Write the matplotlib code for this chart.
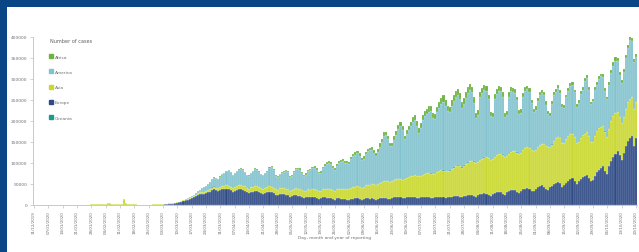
import numpy as np
import pandas as pd
import matplotlib
matplotlib.use("Agg")
import matplotlib.pyplot as plt
from matplotlib.patches import Rectangle
from matplotlib.lines import Line2D

# daily new cases (thousands), 31/12/2019 - 20/10/2020
start_date = "2019-12-31"

europe = [
    0,
    # Jan
    0, 0, 0, 0, 0, 0, 0, 0, 0, 0, 0, 0, 0, 0, 0, 0, 0, 0, 0, 0, 0, 0, 0, 0, 0, 0, 0, 0, 0, 0, 0,
    # Feb
    0, 0, 0, 0, 0, 0, 0, 0, 0, 0, 0, 0, 0, 0, 0, 0, 0, 0, 0, 0,
    0.02, 0.05, 0.1, 0.08, 0.1, 0.15, 0.2, 0.3, 0.4,
    # Mar
    0.6, 0.8, 1.0, 1.2, 1.6, 2.1, 2.6, 3.5, 4.0, 5.0, 6, 7.5, 9, 11, 12.5, 14, 16, 19, 21, 24,
    26, 27, 26, 29, 31, 32, 36, 38, 35, 34, 36,
    # Apr
    38, 37, 39, 37, 35, 32, 33, 36, 37, 38, 35, 33, 30, 28, 31, 32, 34, 33, 31, 28,
    27, 29, 30, 32, 30, 28, 25, 24, 27, 26,
    # May
    27, 25, 23, 20, 21, 23, 24, 22, 21, 19, 17, 18, 20, 19, 19, 18, 17, 15, 16, 18,
    18, 17, 17, 16, 14, 13, 16, 16, 15, 14, 14,
    # Jun
    13, 13, 15, 15, 16, 16, 14, 13, 14, 16, 16, 15, 16, 14, 13, 15, 16, 17, 17, 16,
    15, 14, 17, 18, 18, 19, 18, 16, 17, 18,
    # Jul
    19, 18, 19, 19, 17, 16, 18, 19, 19, 20, 19, 17, 16, 18, 19, 20, 20, 18, 17, 19,
    18, 20, 21, 22, 22, 19, 18, 21, 22, 24, 25,
    # Aug
    24, 22, 20, 24, 26, 27, 28, 27, 23, 22, 26, 29, 31, 32, 31, 27, 25, 30, 33, 35,
    36, 35, 31, 29, 34, 37, 39, 40, 37, 33, 34,
    # Sep
    39, 43, 46, 47, 44, 38, 36, 42, 45, 50, 53, 55, 52, 44, 47, 53, 58, 62, 64, 58,
    49, 56, 62, 67, 70, 72, 65, 56, 60, 70,
    # Oct
    78, 84, 88, 92, 82, 75, 92, 105, 115, 122, 128, 118, 108, 125, 140, 152, 160, 165, 140, 160,
]

asia = [
    0.03,
    # Jan
    0, 0, 0, 0, 0.02, 0, 0, 0, 0, 0, 0, 0, 0, 0, 0, 0, 0, 0.02, 0.02,
    0.14, 0.15, 0.15, 0.1, 0.26, 0.46, 0.69, 0.77, 1.77, 1.46, 1.74, 1.98,
    # Feb
    2.1, 2.6, 2.83, 3.24, 3.88, 3.69, 3.14, 3.39, 2.65, 2.97, 2.47, 2.02,
    15.1, 5.1, 2.64, 2.01, 2.05, 1.89, 1.75, 0.5,
    1.0, 1.1, 1.0, 0.6, 1.0, 1.0, 1.2, 1.2, 1.5,
    # Mar
    1.8, 1.6, 1.5, 1.5, 1.6, 1.9, 1.8, 1.7, 1.4, 1.3, 1.4, 1.6, 1.9, 1.8, 2.0, 2.3, 2.4, 2.8, 3.0, 3.4,
    3.8, 4.0, 4.3, 4.1, 4.5, 5.0, 5.6, 6.0, 6.3, 6.0, 6.5,
    # Apr
    7.0, 7.5, 8.0, 8.5, 8.0, 8.5, 9.0, 9.5, 10.0, 10.5, 11, 11.5, 11, 10.5, 11, 12, 12, 12.5, 12, 11.5,
    11, 12, 12.5, 13, 13, 12, 12, 12.5, 13, 13.5,
    # May
    14, 14, 14.5, 13.5, 14, 15, 16, 16.5, 17, 17, 16, 16.5, 17, 17.5, 18, 19, 19, 18, 18.5, 19,
    20, 21, 21.5, 22, 21, 21, 22, 23, 24, 25, 25,
    # Jun
    24, 25, 26, 27, 28, 29, 29, 28, 30, 31, 32, 33, 34, 35, 34, 35, 37, 38, 40, 40,
    41, 40, 39, 41, 43, 44, 45, 44, 45, 47,
    # Jul
    48, 50, 51, 52, 53, 52, 50, 53, 55, 56, 57, 58, 57, 56, 59, 61, 63, 64, 63, 62,
    64, 66, 68, 70, 72, 73, 71, 73, 75, 77, 79,
    # Aug
    80, 81, 79, 78, 81, 83, 85, 87, 88, 85, 83, 86, 88, 90, 91, 93, 89, 86, 89, 91,
    92, 94, 94, 92, 90, 94, 96, 97, 99, 98, 95,
    # Sep
    92, 94, 97, 99, 101, 103, 101, 97, 99, 103, 106, 108, 107, 104, 101, 103, 106, 107, 106, 104,
    99, 94, 98, 99, 100, 101, 99, 94, 91, 95,
    # Oct
    98, 99, 98, 96, 93, 87, 90, 95, 97, 96, 94, 91, 87, 85, 89, 94, 93, 91, 88, 86,
]

america = [
    0,
    # Jan
    0, 0, 0, 0, 0, 0, 0, 0, 0, 0, 0, 0, 0, 0, 0, 0, 0, 0, 0, 0, 0, 0, 0, 0, 0, 0, 0, 0, 0, 0, 0,
    # Feb
    0, 0, 0, 0, 0, 0, 0, 0, 0, 0, 0, 0, 0, 0, 0, 0, 0, 0, 0, 0, 0, 0, 0, 0, 0, 0, 0, 0, 0,
    # Mar
    0.02, 0.03, 0.05, 0.05, 0.1, 0.1, 0.1, 0.15, 0.2, 0.3, 0.4, 0.5, 0.7, 0.8, 1.0, 1.5, 2.0, 2.5, 3.5, 5.5,
    6.5, 8, 11, 11, 13, 18, 19, 21, 22, 22, 25,
    # Apr
    28, 31, 34, 37, 35, 31, 33, 35, 37, 38, 38, 33, 30, 31, 34, 37, 40, 39, 36, 34,
    33, 35, 36, 44, 48, 44, 32, 30, 33, 36,
    # May
    38, 42, 40, 34, 33, 40, 45, 47, 46, 40, 36, 38, 44, 47, 50, 52, 48, 42, 42, 50,
    55, 60, 62, 60, 54, 50, 55, 60, 64, 66, 62,
    # Jun
    62, 60, 68, 74, 76, 78, 74, 66, 66, 74, 80, 82, 82, 74, 70, 76, 86, 94, 108, 110,
    100, 86, 84, 96, 106, 118, 124, 118, 94, 104,
    # Jul
    112, 120, 128, 132, 118, 104, 116, 130, 138, 140, 146, 148, 134, 130, 142, 150, 158, 164, 156, 142,
    138, 150, 158, 164, 168, 160, 142, 146, 158, 164, 170,
    # Aug
    164, 140, 108, 112, 150, 156, 160, 158, 140, 105, 100, 138, 146, 150, 148, 138, 95, 98, 136, 144,
    140, 138, 124, 96, 96, 126, 136, 138, 134, 112, 92,
    # Sep
    96, 110, 118, 120, 116, 98, 80, 72, 96, 108, 110, 116, 108, 86, 84, 100, 108, 114, 116, 106,
    86, 94, 104, 108, 126, 130, 110, 90, 96, 108,
    # Oct
    110, 116, 120, 116, 96, 90, 104, 114, 120, 126, 120, 100, 96, 106, 120, 128, 140, 134, 112, 106,
]

africa = [
    0,
    # Jan
    0, 0, 0, 0, 0, 0, 0, 0, 0, 0, 0, 0, 0, 0, 0, 0, 0, 0, 0, 0, 0, 0, 0, 0, 0, 0, 0, 0, 0, 0, 0,
    # Feb
    0, 0, 0, 0, 0, 0, 0, 0, 0, 0, 0, 0, 0, 0, 0, 0, 0, 0, 0, 0, 0, 0, 0, 0, 0, 0, 0, 0, 0,
    # Mar
    0, 0, 0, 0, 0.01, 0.02, 0.02, 0.03, 0.02, 0.04, 0.04, 0.03, 0.05, 0.06, 0.07, 0.09, 0.1, 0.12, 0.15, 0.2,
    0.2, 0.25, 0.3, 0.35, 0.4, 0.4, 0.45, 0.5, 0.55, 0.5, 0.6,
    # Apr
    0.6, 0.7, 0.7, 0.75, 0.7, 0.6, 0.65, 0.7, 0.8, 0.85, 0.9, 0.9, 0.85, 0.8, 0.95, 1.0, 1.1, 1.2, 1.2, 1.1,
    1.2, 1.3, 1.4, 1.5, 1.6, 1.6, 1.5, 1.6, 1.8, 2.0,
    # May
    2.1, 2.3, 2.4, 2.3, 2.4, 2.6, 2.8, 3.0, 3.1, 3.0, 2.8, 2.9, 3.1, 3.3, 3.4, 3.6, 3.5, 3.3, 3.4, 3.6,
    3.8, 4.0, 4.2, 4.1, 4.0, 3.9, 4.3, 4.6, 4.8, 5.0, 4.9,
    # Jun
    4.8, 4.9, 5.2, 5.5, 5.8, 6.0, 5.9, 5.5, 5.8, 6.2, 6.5, 6.8, 7.0, 6.8, 6.6, 7.0, 7.6, 8.0, 8.2, 8.0,
    8.2, 7.8, 7.6, 8.4, 9.0, 9.4, 9.6, 9.0, 8.8, 9.4,
    # Jul
    10, 10.5, 11, 11.5, 10.8, 10.2, 11, 12, 12.5, 12.8, 13, 12.6, 12, 12.4, 13, 13.5, 14, 14.5, 14, 13,
    13.5, 14, 14.5, 15, 14.8, 14, 13, 13.5, 14, 14.2, 14,
    # Aug
    13.5, 12.5, 11.5, 12, 12.5, 13, 12.6, 12, 11, 10, 10.5, 11, 11.2, 11, 10.6, 10, 9, 9.2, 10, 10.2,
    10, 9.6, 9, 8.4, 8.6, 9, 9.2, 9, 8.6, 8, 7.6,
    # Sep
    8, 8.4, 8.6, 8.4, 8, 7.4, 6.8, 7, 7.6, 7.8, 7.8, 7.6, 7.2, 6.6, 6.8, 7, 7.2, 7, 6.8, 6.4,
    6, 6.4, 6.8, 7, 7, 6.8, 6.4, 6, 6.2, 6.8,
    # Oct
    7, 7.2, 7, 6.8, 6.4, 6.2, 6.8, 7.2, 7.4, 7.2, 7, 6.6, 6.8, 7.4, 7.8, 8, 8.2, 8, 7.6, 7.8,
]

oceania = [
    0,
    # Jan
    0, 0, 0, 0, 0, 0, 0, 0, 0, 0, 0, 0, 0, 0, 0, 0, 0, 0, 0, 0, 0, 0, 0, 0, 0, 0, 0, 0, 0, 0, 0,
    # Feb
    0, 0, 0, 0, 0, 0, 0, 0, 0, 0, 0, 0, 0, 0, 0, 0, 0, 0, 0, 0, 0, 0, 0, 0, 0, 0, 0, 0, 0,
    # Mar
    0, 0, 0, 0, 0, 0, 0, 0, 0, 0.01, 0.01, 0.02, 0.03, 0.05, 0.05, 0.06, 0.08, 0.1, 0.15, 0.2,
    0.25, 0.3, 0.4, 0.45, 0.5, 0.45, 0.4, 0.4, 0.35, 0.3, 0.3,
    # Apr
    0.25, 0.3, 0.25, 0.2, 0.15, 0.12, 0.1, 0.08, 0.06, 0.07, 0.06, 0.05, 0.04, 0.03, 0.03, 0.03, 0.02, 0.02, 0.02, 0.02,
    0.02, 0.01, 0.01, 0.02, 0.01, 0.01, 0.01, 0.01, 0.01, 0.02,
    # May
    0.01, 0.02, 0.01, 0.01, 0.01, 0.02, 0.02, 0.01, 0.01, 0.01, 0.01, 0.01, 0.02, 0.02, 0.01, 0.01, 0.01, 0.01, 0.01, 0.02,
    0.02, 0.01, 0.01, 0.01, 0.01, 0.02, 0.02, 0.01, 0.01, 0.01, 0.01,
    # Jun
    0.01, 0.01, 0.01, 0.02, 0.02, 0.01, 0.01, 0.01, 0.01, 0.02, 0.02, 0.02, 0.01, 0.01, 0.02, 0.02, 0.02, 0.03, 0.03, 0.03,
    0.03, 0.03, 0.04, 0.05, 0.05, 0.05, 0.06, 0.06, 0.07, 0.08,
    # Jul
    0.08, 0.09, 0.1, 0.11, 0.12, 0.13, 0.14, 0.15, 0.17, 0.2, 0.22, 0.25, 0.27, 0.28, 0.3, 0.32, 0.35, 0.38, 0.4, 0.4,
    0.42, 0.45, 0.48, 0.5, 0.52, 0.5, 0.48, 0.5, 0.55, 0.6, 0.65,
    # Aug
    0.62, 0.6, 0.55, 0.6, 0.62, 0.6, 0.55, 0.5, 0.45, 0.4, 0.38, 0.35, 0.35, 0.33, 0.32, 0.3, 0.28, 0.25, 0.24, 0.24,
    0.22, 0.2, 0.2, 0.18, 0.16, 0.15, 0.14, 0.13, 0.12, 0.11, 0.1,
    # Sep
    0.1, 0.09, 0.08, 0.08, 0.07, 0.07, 0.06, 0.06, 0.05, 0.05, 0.05, 0.05, 0.04, 0.04, 0.04, 0.04, 0.03, 0.03, 0.03, 0.03,
    0.03, 0.03, 0.03, 0.02, 0.02, 0.02, 0.02, 0.02, 0.02, 0.02,
    # Oct
    0.02, 0.02, 0.02, 0.02, 0.02, 0.02, 0.02, 0.03, 0.03, 0.03, 0.03, 0.03, 0.03, 0.03, 0.03, 0.03, 0.03, 0.03, 0.03, 0.03,
]

series_names = ["Africa", "America", "Asia", "Europe", "Oceania"]
colors = {
    "Africa": "#6cb33f",
    "America": "#82c2ce",
    "Asia": "#c9d82f",
    "Europe": "#2f4b85",
    "Oceania": "#1e9a8c",
}
values = {"Africa": africa, "America": america, "Asia": asia, "Europe": europe, "Oceania": oceania}
for k, v in values.items():
    assert len(v) == 295, (k, len(v))

dates = pd.date_range(start_date, periods=len(europe), freq="D")
x = np.arange(len(dates))

fig = plt.figure(figsize=(6.39, 2.53), dpi=100)
fig.patch.set_facecolor("#0a4586")
fig.add_artist(Rectangle((7 / 639, 0), 1, 1 - 8 / 253, transform=fig.transFigure,
                         facecolor="white", edgecolor="none", zorder=0))

ax = fig.add_axes([33 / 639, 47 / 253, 604 / 639, 168 / 253])
ax.set_facecolor("none")

# stacking order as in the chart: Europe at the bottom, Africa on top
bottom = np.zeros(len(x))
for name in ["Europe", "Asia", "Oceania", "America", "Africa"]:
    v = np.array(values[name]) * 1000
    ax.bar(x, v, bottom=bottom, width=1.0, color=colors[name],
           edgecolor="white", linewidth=0.12)
    bottom += v

ax.set_xlim(-0.5, len(x) - 0.5)
ax.set_ylim(0, 400000)
ax.set_yticks(np.arange(0, 400001, 50000))
ax.set_yticklabels([str(t) for t in range(0, 400001, 50000)])

tick_idx = x[::7]
ax.set_xticks(tick_idx)
ax.set_xticklabels([dates[i].strftime("%d/%m/%Y") for i in tick_idx], rotation=90)

for s in ["top", "right"]:
    ax.spines[s].set_visible(False)
for s in ["left", "bottom"]:
    ax.spines[s].set_color("#c0c0c0")
    ax.spines[s].set_linewidth(0.6)
ax.tick_params(axis="both", colors="#c0c0c0", labelcolor="#707070", length=2, width=0.5)
ax.tick_params(axis="y", labelsize=3.2, pad=2)
ax.tick_params(axis="x", labelsize=2.9, pad=1.5)

ax.set_xlabel("Day, month and year of reporting", fontsize=3.2, color="#707070", labelpad=2)

handles = [Line2D([], [], marker="s", linestyle="none", markersize=2.2,
                  color=colors[n]) for n in series_names]
leg = ax.legend(handles, series_names, title="Number of cases", loc="upper left",
                bbox_to_anchor=(14 / 604, 1.01), frameon=False, fontsize=3.2,
                title_fontsize=3.6, labelspacing=2.5, handlelength=0.6,
                handletextpad=0.4, borderpad=0.2, alignment="left")
for t in leg.get_texts():
    t.set_color("#707070")
leg.get_title().set_color("#606060")

fig.savefig("out.png", dpi=100, facecolor=fig.get_facecolor())
